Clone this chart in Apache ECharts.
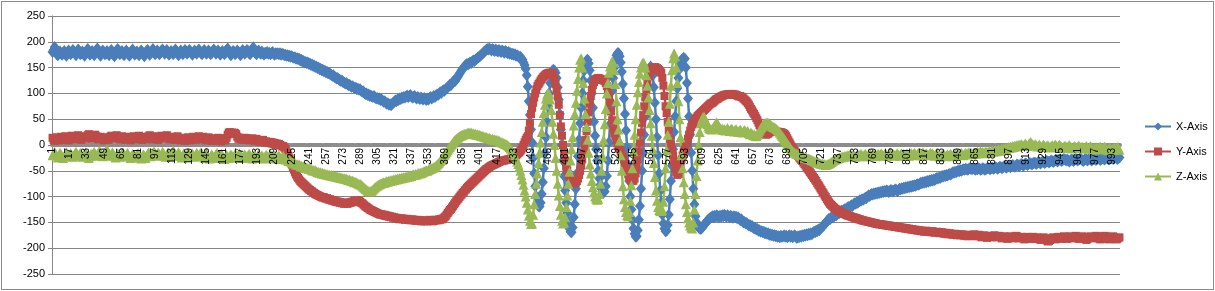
<!DOCTYPE html>
<html>
<head>
<meta charset="utf-8">
<title>X / Y / Z Axis</title>
<script src="https://cdn.jsdelivr.net/npm/echarts@6/dist/echarts.min.js"></script>
<style>
  html, body { margin: 0; padding: 0; background: #fff; }
  #wrap { position: relative; width: 1215px; height: 291px; }
  #chart { width: 1215px; height: 291px; }
  #frame { position: absolute; left: 1px; top: 1px; width: 1211px; height: 287px;
           border: 1px solid #8c8c8c; pointer-events: none; }
</style>
</head>
<body>
<div id="wrap">
  <div id="chart"></div>
  <div id="frame"></div>
</div>
<script>
// sample numbers 1..1000 on the category axis
var samples = [];
for (var i = 1; i <= 1000; i++) samples.push(String(i));

var seriesNames = ['X-Axis', 'Y-Axis', 'Z-Axis'];

var xAxisData = [
  180,184,190,183,176,174,178,181,177,175, 179,182,176,173,178,183,180,176,179,184,
  181,177,174,179,185,182,176,178,181,177, 173,177,183,186,180,175,178,182,179,174,
  178,184,187,181,176,173,179,183,180,176, 177,182,178,174,179,184,181,175,172,178,
  183,186,180,176,179,182,177,174,178,183, 180,176,173,178,182,185,179,175,178,181,
  177,174,179,183,180,176,172,177,182,184, 179,175,178,182,186,181,176,179,183,180,
  176,178,183,185,180,177,181,184,179,175, 178,182,179,176,180,185,182,177,174,179,
  183,180,176,179,184,181,177,180,184,182, 178,175,179,183,180,177,181,185,182,178,
  176,180,184,181,177,179,183,180,176,178, 182,185,181,177,180,183,179,175,178,182,
  179,176,180,184,187,182,177,174,178,182, 180,176,179,183,180,177,174,179,184,181,
  177,180,184,182,178,176,180,186,189,183, 178,176,180,183,179,177,181,178,175,179,
  178,180,177,179,176,178,180,177,175,178, 177,178,176,178,175,177,176,174,175,173,
  174,172,173,171,172,170,169,170,167,168, 166,167,164,165,162,163,160,161,159,160,
  157,158,155,156,153,154,151,152,149,150, 147,148,145,146,143,144,141,142,139,140,
  137,136,134,135,132,131,129,130,127,126, 124,125,122,121,119,120,118,116,117,115,
  113,114,112,110,111,108,109,107,108,105, 103,104,101,99,100,97,98,95,96,94,
  93,95,92,90,91,89,90,87,88,86, 84,85,82,80,81,78,79,77,80,82,
  84,86,85,88,87,90,89,92,91,93, 92,94,96,93,95,97,94,92,93,95,
  92,90,93,91,89,92,90,88,91,89, 87,90,88,91,93,90,92,95,93,96,
  98,97,100,102,101,104,106,105,108,110, 112,114,117,116,119,122,125,124,128,131,
  134,138,141,145,148,150,153,155,157,156, 158,160,159,162,164,163,165,167,169,170,
  172,174,176,178,180,182,184,186,185,187, 185,183,186,184,182,185,183,181,184,182,
  180,183,181,179,182,180,178,180,177,178, 176,177,175,176,173,174,172,170,171,168,
  165,160,155,148,135,113,85,58,30,5, -25,-55,-80,-100,-112,-118,-119,-112,-95,-72,
  -45,-15,15,45,75,100,120,135,144,146, 144,140,130,112,88,60,30,0,-30,-60,
  -88,-112,-132,-150,-162,-168,-169,-160,-140,-115, -85,-55,-22,10,42,72,100,125,145,158,
  164,165,158,145,125,100,72,45,18,-8, -30,-50,-65,-77,-85,-90,-92,-90,-80,-60,
  -30,5,40,75,105,130,150,165,174,178, 178,172,160,142,118,90,60,28,-5,-38,
  -70,-100,-125,-145,-162,-172,-178,-177,-165,-145, -118,-85,-50,-15,20,55,88,115,135,148,
  152,148,135,112,82,50,15,-20,-55,-88, -112,-135,-152,-162,-167,-166,-155,-135,-105,-70,
  -40,-8,25,55,85,110,130,147,158,165, 166,169,167,150,120,90,55,20,-15,-50,
  -85,-115,-138,-150,-156,-160,-162,-163,-161,-158, -155,-152,-150,-147,-145,-143,-141,-140,-138,-140,
  -137,-139,-136,-138,-140,-137,-139,-136,-138,-135, -137,-139,-136,-138,-140,-137,-139,-141,-138,-140,
  -139,-142,-140,-143,-146,-144,-148,-150,-149,-152, -151,-154,-156,-155,-158,-157,-160,-162,-161,-164,
  -163,-166,-165,-168,-167,-169,-168,-171,-170,-172, -171,-174,-173,-175,-174,-176,-175,-177,-176,-178,
  -177,-179,-176,-178,-177,-175,-178,-176,-179,-177, -175,-178,-176,-179,-177,-175,-178,-180,-177,-179,
  -176,-178,-175,-177,-174,-176,-173,-175,-172,-174, -171,-173,-170,-168,-169,-166,-167,-164,-165,-162,
  -160,-158,-156,-153,-151,-148,-146,-143,-144,-141, -139,-140,-137,-135,-136,-133,-131,-132,-129,-127,
  -128,-126,-124,-125,-122,-120,-121,-119,-117,-118, -115,-113,-114,-111,-112,-109,-107,-108,-105,-106,
  -104,-102,-103,-100,-98,-99,-97,-95,-96,-94, -95,-93,-94,-92,-93,-91,-92,-90,-91,-89,
  -90,-88,-89,-91,-89,-87,-88,-90,-88,-86, -87,-89,-87,-85,-86,-84,-85,-83,-84,-82,
  -83,-81,-82,-80,-81,-79,-80,-78,-79,-77, -76,-77,-75,-73,-74,-72,-73,-71,-72,-70,
  -71,-69,-70,-68,-69,-67,-68,-66,-64,-65, -63,-64,-62,-60,-61,-59,-60,-58,-59,-57,
  -56,-57,-55,-53,-54,-52,-53,-51,-50,-51, -49,-50,-48,-47,-48,-46,-47,-48,-46,-45,
  -46,-47,-45,-46,-48,-46,-47,-45,-46,-48, -47,-45,-46,-48,-47,-45,-44,-46,-47,-45,
  -44,-46,-45,-43,-44,-46,-44,-42,-43,-45, -43,-41,-42,-44,-42,-40,-41,-43,-41,-39,
  -40,-42,-40,-38,-39,-41,-39,-37,-38,-40, -38,-36,-37,-39,-37,-35,-36,-38,-36,-34,
  -35,-37,-35,-33,-34,-36,-34,-32,-33,-35, -33,-31,-32,-34,-32,-30,-31,-33,-31,-29,
  -30,-32,-30,-28,-29,-31,-29,-27,-28,-30, -28,-30,-32,-30,-28,-29,-31,-29,-27,-28,
  -30,-28,-26,-27,-29,-31,-29,-27,-28,-30, -28,-26,-28,-30,-28,-26,-27,-29,-27,-25,
  -27,-29,-27,-25,-26,-28,-26,-24,-26,-28, -26,-24,-25,-27,-25,-23,-25,-27,-25,-24
];

var yAxisData = [
  14,10,8,12,15,11,9,13,16,12, 10,13,17,14,11,9,12,15,18,16,
  13,11,14,17,19,15,12,10,14,17, 15,12,16,19,21,18,14,12,15,18,
  20,17,14,11,13,16,14,11,9,12, 15,13,10,12,16,18,15,12,14,17,
  19,16,13,11,14,17,15,12,10,13, 16,14,11,9,12,15,17,14,11,13,
  16,18,15,12,10,13,16,14,11,14, 17,19,16,13,11,14,17,15,12,10,
  13,16,18,15,12,14,17,19,16,13, 11,14,16,13,10,12,15,17,14,11,
  9,12,14,11,8,10,13,15,12,9, 11,14,16,13,10,12,15,17,14,11,
  13,16,14,11,9,12,15,13,10,8, 11,13,10,8,11,14,12,9,7,10,
  13,11,9,14,20,24,25,23,24,22, 24,23,21,16,12,14,11,13,10,12,
  14,11,13,10,12,9,11,13,10,8, 10,12,9,7,9,6,8,10,7,5,
  7,5,6,4,6,3,5,2,4,1, 3,1,2,0,-1,-3,-2,-5,-8,-12,
  -16,-21,-26,-32,-38,-43,-48,-53,-57,-61, -64,-67,-70,-72,-74,-76,-78,-80,-82,-84,
  -86,-87,-89,-90,-92,-93,-95,-96,-97,-98, -99,-100,-101,-102,-101,-103,-104,-103,-105,-106,
  -105,-107,-108,-107,-109,-110,-109,-111,-110,-112, -111,-113,-112,-114,-113,-112,-114,-113,-111,-112,
  -110,-111,-109,-108,-110,-107,-109,-108,-110,-112, -113,-115,-117,-119,-120,-122,-123,-125,-126,-127,
  -128,-129,-130,-131,-132,-133,-134,-135,-134,-136, -135,-137,-136,-138,-137,-139,-138,-140,-139,-141,
  -140,-142,-141,-143,-142,-144,-143,-142,-144,-143, -145,-144,-143,-145,-144,-146,-145,-144,-146,-145,
  -147,-146,-145,-147,-146,-148,-147,-146,-148,-147, -146,-148,-147,-145,-147,-146,-148,-147,-145,-146,
  -145,-146,-144,-145,-143,-144,-142,-140,-138,-135, -132,-129,-126,-124,-121,-118,-115,-112,-109,-106,
  -104,-101,-98,-96,-93,-91,-88,-86,-83,-81, -79,-77,-75,-73,-71,-69,-67,-65,-63,-61,
  -59,-57,-55,-53,-51,-49,-47,-46,-44,-43, -41,-40,-39,-38,-37,-36,-35,-34,-33,-32,
  -31,-31,-30,-30,-29,-29,-28,-28,-27,-27, -26,-25,-24,-22,-20,-18,-16,-14,-12,-9,
  -5,0,5,10,14,17,28,43,60,72, 82,92,100,108,114,118,121,125,128,131,
  133,135,137,138,139,140,140,140,138,134, 127,118,106,94,78,58,36,18,0,-15,
  -30,-41,-50,-57,-63,-67,-71,-73,-75,-74, -73,-70,-65,-58,-50,-40,-28,-15,-2,10,
  27,45,63,80,95,107,116,122,126,128, 129,130,129,128,127,126,125,124,120,114,
  107,96,82,65,48,32,22,17,10,3, -3,-8,-13,-18,-22,-28,-35,-42,-50,-57,
  -62,-66,-69,-70,-69,-65,-55,-42,-28,-12, 5,24,43,58,75,92,108,122,133,140,
  144,147,149,150,151,150,149,147,145,142, 140,130,115,95,75,62,45,28,12,0,
  -9,-20,-32,-44,-53,-58,-56,-48,-38,-28, -20,-14,-9,-3,4,12,20,28,35,40,
  43,47,50,53,56,58,60,62,64,66, 68,70,72,74,76,78,80,81,82,84,
  86,88,89,90,92,93,94,95,96,97, 97,98,98,98,99,98,98,99,97,98,
  97,96,95,94,95,93,92,90,88,86, 84,81,78,74,70,67,63,60,56,52,
  48,43,38,34,30,26,23,21,20,21, 22,24,25,26,27,26,27,26,25,26,
  25,24,25,24,23,22,20,17,13,9, 5,1,-3,-6,-9,-12,-15,-18,-21,-24,
  -26,-29,-31,-34,-37,-40,-43,-46,-49,-52, -55,-58,-61,-64,-67,-70,-74,-77,-80,-84,
  -87,-91,-94,-98,-101,-105,-108,-111,-114,-116, -118,-120,-122,-124,-125,-127,-128,-129,-130,-131,
  -132,-133,-134,-135,-136,-137,-137,-138,-139,-140, -140,-141,-142,-142,-143,-144,-144,-145,-146,-146,
  -147,-147,-148,-148,-149,-149,-150,-150,-151,-151, -152,-152,-153,-153,-154,-153,-154,-155,-154,-155,
  -156,-155,-156,-157,-156,-157,-158,-157,-158,-159, -158,-159,-160,-159,-160,-161,-160,-161,-162,-161,
  -162,-163,-162,-163,-164,-163,-164,-165,-164,-165, -166,-165,-166,-167,-166,-167,-168,-167,-166,-168,
  -167,-168,-169,-168,-167,-169,-170,-169,-168,-170, -169,-171,-170,-169,-171,-172,-170,-171,-173,-172,
  -171,-173,-172,-174,-173,-172,-174,-175,-173,-174, -175,-174,-173,-175,-176,-174,-175,-177,-176,-175,
  -174,-176,-175,-173,-175,-177,-176,-174,-175,-177, -179,-177,-175,-176,-178,-180,-178,-176,-177,-179,
  -178,-176,-175,-177,-179,-178,-176,-177,-179,-181, -179,-177,-178,-180,-182,-180,-178,-177,-179,-181,
  -180,-178,-176,-177,-179,-181,-180,-178,-179,-181, -183,-181,-179,-178,-180,-182,-181,-179,-178,-180,
  -182,-181,-179,-180,-182,-184,-182,-180,-179,-181, -183,-185,-187,-186,-184,-182,-180,-179,-181,-183,
  -181,-179,-178,-180,-182,-181,-179,-177,-178,-180, -182,-180,-178,-177,-179,-181,-180,-178,-176,-178,
  -180,-182,-181,-179,-177,-178,-180,-182,-184,-182, -180,-178,-177,-179,-181,-180,-178,-176,-177,-179,
  -181,-183,-182,-180,-178,-176,-177,-179,-181,-183, -182,-180,-178,-177,-179,-181,-183,-182,-180,-179
];

var zAxisData = [
  -20,-16,-13,-17,-21,-24,-19,-15,-18,-22, -25,-21,-17,-14,-18,-22,-20,-16,-19,-23,
  -20,-16,-13,-17,-21,-18,-15,-19,-23,-20, -17,-14,-18,-22,-25,-21,-17,-20,-16,-13,
  -17,-21,-18,-14,-11,-15,-19,-22,-18,-15, -12,-8,-13,-17,-21,-18,-14,-17,-21,-24,
  -20,-16,-19,-23,-20,-17,-14,-18,-22,-19, -15,-18,-22,-25,-21,-17,-20,-24,-22,-18,
  -15,-19,-23,-26,-22,-18,-21,-25,-21,-17, -14,-18,-22,-19,-15,-12,-16,-20,-17,-14,
  -18,-21,-17,-13,-16,-20,-23,-19,-15,-18, -22,-19,-15,-11,-14,-18,-21,-17,-14,-17,
  -21,-24,-20,-16,-19,-22,-18,-15,-18,-22, -19,-16,-20,-23,-19,-15,-18,-21,-17,-14,
  -17,-21,-24,-20,-16,-19,-23,-26,-22,-18, -21,-25,-22,-18,-15,-19,-23,-20,-17,-20,
  -24,-27,-23,-19,-22,-25,-21,-18,-21,-24, -21,-17,-20,-23,-19,-16,-19,-22,-25,-21,
  -18,-21,-24,-20,-17,-20,-23,-26,-22,-19, -22,-25,-21,-18,-21,-24,-20,-23,-26,-22,
  -19,-22,-25,-21,-18,-22,-25,-23,-20,-24, -26,-23,-20,-24,-27,-24,-21,-25,-28,-26,
  -28,-31,-29,-32,-34,-33,-36,-35,-38,-37, -39,-38,-41,-40,-42,-41,-44,-43,-45,-44,
  -46,-45,-47,-49,-48,-50,-49,-51,-53,-52, -54,-53,-55,-54,-56,-55,-57,-56,-58,-57,
  -59,-58,-60,-59,-61,-60,-62,-61,-63,-62, -64,-63,-65,-64,-66,-65,-67,-68,-67,-69,
  -70,-69,-71,-72,-71,-73,-74,-76,-75,-77, -79,-81,-83,-85,-86,-88,-89,-90,-89,-88,
  -86,-84,-82,-80,-79,-77,-76,-75,-74,-73, -72,-73,-71,-70,-71,-69,-70,-68,-69,-67,
  -68,-66,-67,-65,-66,-64,-65,-63,-64,-62, -63,-61,-62,-60,-61,-59,-60,-58,-57,-58,
  -56,-57,-55,-54,-55,-53,-54,-52,-51,-50, -49,-50,-48,-47,-46,-45,-44,-43,-42,-40,
  -38,-36,-34,-31,-28,-25,-22,-19,-16,-13, -10,-7,-4,-1,2,5,8,10,12,14,
  15,17,18,19,20,21,22,22,23,24, 24,23,24,22,23,21,22,20,21,19,
  20,18,17,18,16,15,16,14,13,14, 12,11,12,10,11,9,10,8,9,7,
  6,5,4,3,2,1,0,-2,-4,-7, -10,-14,-18,-22,-27,-32,-37,-43,-50,-58,
  -67,-77,-88,-100,-112,-125,-137,-147,-153,-152, -135,-115,-95,-75,-55,-35,-15,5,25,45,
  62,78,90,98,101,99,88,68,45,22, 0,-25,-50,-75,-98,-118,-135,-147,-152,-150,
  -140,-120,-98,-75,-52,-30,-8,15,38,60, 82,105,128,150,165,168,150,120,90,60,
  35,10,-15,-38,-55,-70,-82,-92,-100,-104, -106,-104,-95,-75,-50,-22,10,40,70,100,
  120,140,152,158,162,160,145,118,85,50, 30,8,-20,-50,-80,-105,-120,-130,-136,-138,
  -130,-108,-78,-45,-12,20,50,78,102,122, 138,150,157,160,158,150,135,115,92,68,
  42,18,-8,-35,-62,-88,-108,-120,-126,-128, -128,-126,-110,-80,-45,-10,20,45,80,115,
  145,168,178,172,150,120,85,50,15,-20, -45,-72,-95,-115,-130,-142,-150,-156,-160,-162,
  -150,-125,-95,-60,-30,0,25,42,50,54, 55,50,45,40,36,33,31,30,32,35,
  38,42,44,40,36,33,30,32,29,31, 28,30,33,29,27,30,32,28,26,29,
  31,27,25,28,30,26,24,27,29,25, 25,27,23,21,24,22,19,21,18,17,
  20,24,28,32,35,38,40,42,43,44, 43,42,40,38,36,35,34,33,31,29,
  27,24,21,18,15,12,9,6,3,0, -3,-6,-9,-11,-13,-15,-16,-17,-18,-19,
  -20,-21,-22,-23,-24,-24,-25,-26,-26,-27, -28,-29,-30,-31,-32,-33,-34,-34,-35,-36,
  -37,-36,-38,-37,-39,-38,-37,-36,-35,-33, -32,-30,-29,-28,-27,-26,-25,-24,-24,-23,
  -22,-23,-21,-22,-20,-21,-19,-22,-20,-21, -19,-21,-23,-20,-18,-21,-19,-17,-20,-22,
  -19,-17,-20,-22,-19,-16,-18,-21,-19,-17, -20,-22,-19,-17,-20,-18,-16,-19,-21,-18,
  -16,-19,-21,-18,-15,-18,-20,-17,-19,-21, -18,-16,-19,-21,-18,-16,-19,-17,-20,-18,
  -16,-19,-21,-18,-16,-19,-17,-15,-18,-20, -17,-15,-18,-20,-17,-14,-17,-19,-16,-18,
  -20,-17,-15,-18,-16,-19,-21,-18,-16,-19, -21,-23,-20,-18,-21,-19,-22,-20,-18,-21,
  -19,-17,-20,-22,-19,-17,-20,-18,-16,-19, -17,-15,-18,-20,-17,-15,-18,-16,-14,-17,
  -15,-18,-16,-14,-17,-15,-13,-16,-14,-12, -15,-13,-16,-14,-12,-15,-13,-11,-14,-12,
  -10,-13,-11,-9,-12,-10,-8,-11,-9,-7, -9,-7,-5,-8,-6,-4,-6,-3,-5,-2,
  -4,-1,-3,0,-2,1,-1,2,0,-2, 1,3,0,-2,2,4,6,3,1,-1,
  2,0,-3,-1,1,-2,-4,-1,1,-2, -4,-2,0,-3,-5,-2,0,-3,-1,1,
  -2,-4,-1,1,-2,-4,-6,-3,-1,-3, -5,-2,0,-3,-5,-7,-4,-2,-4,-6,
  -3,-1,-4,-6,-3,-5,-7,-4,-2,-5, -7,-4,-2,-5,-7,-9,-6,-4,-6,-8,
  -5,-3,-6,-8,-5,-3,-6,-8,-10,-7, -5,-8,-10,-7,-5,-8,-6,-4,-7,-9
];

var font = 'Liberation Sans, Arial, sans-serif';

var myChart = echarts.init(document.getElementById('chart'));

// excel-like line series with markers
function lineSeries(name, data, color, symbol, size) {
    return {
        name: name,
        type: 'line',
        data: data,
        symbol: symbol,
        symbolSize: size,
        showAllSymbol: true,
        lineStyle: { color: color, width: 2.5 },
        itemStyle: { color: color },
        emphasis: { disabled: true }
    };
}

var option = {
    animation: false,
    backgroundColor: '#fff',
    grid: { left: 52, right: 95, top: 16, bottom: 17, outerBoundsMode: 'none' },
    legend: {
        orient: 'vertical',
        left: 1139,
        top: 116,
        itemWidth: 26,
        itemHeight: 10,
        itemGap: 14,
        textStyle: { fontFamily: font, fontSize: 11, color: '#000' },
        data: seriesNames
    },
    xAxis: [
        {
            // gray zero line, drawn under the series
            type: 'category',
            data: samples,
            offset: -129,
            axisLine: {
                onZero: false,
                lineStyle: { color: '#8c8c8c', width: 4, type: [14, 2] }
            },
            axisTick: { show: false },
            axisLabel: { show: false },
            splitLine: { show: false }
        },
        {
            // same categories, only the labels, drawn over the series
            type: 'category',
            data: samples,
            position: 'bottom',
            offset: -129,
            z: 10,
            axisLine: { show: false, onZero: false },
            axisTick: { show: false },
            axisLabel: {
                interval: 15,
                rotate: 90,
                margin: 3,
                fontFamily: font,
                fontSize: 10,
                color: '#000'
            },
            splitLine: { show: false }
        }
    ],
    yAxis: {
        type: 'value',
        min: -250,
        max: 250,
        interval: 50,
        axisLine: { show: true, lineStyle: { color: '#868686', width: 1 } },
        axisTick: { show: true, length: 4, lineStyle: { color: '#868686' } },
        axisLabel: { fontFamily: font, fontSize: 11, color: '#000', margin: 7 },
        splitLine: { lineStyle: { color: '#868686', width: 1 } }
    },
    series: [
        lineSeries(seriesNames[0], xAxisData, '#4a7ebb', 'diamond', [10, 12]),
        lineSeries(seriesNames[1], yAxisData, '#be4b48', 'rect', 8),
        lineSeries(seriesNames[2], zAxisData, '#98b954', 'triangle', 10)
    ]
};
myChart.setOption(option);
window.onresize = myChart.resize;
</script>
</body>
</html>
